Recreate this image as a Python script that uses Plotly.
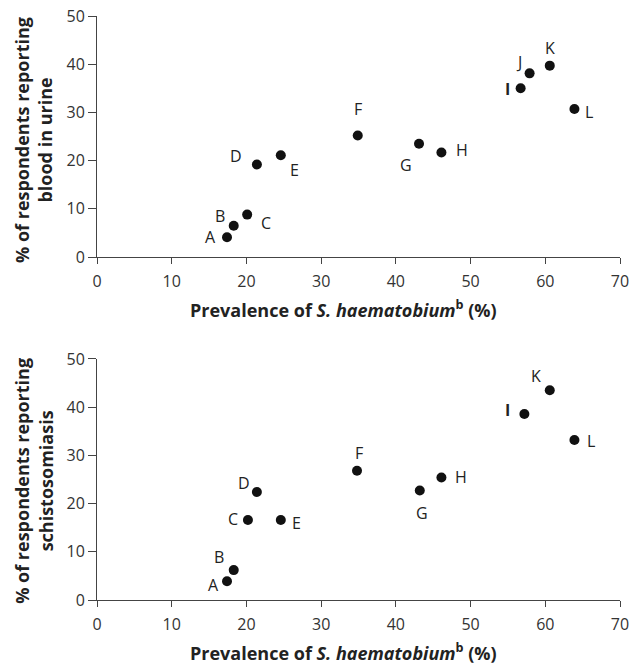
import plotly.graph_objects as go

# Panel 1: blood in urine
labels_top = ["A", "B", "C", "D", "E", "F", "G", "H", "I", "J", "K", "L"]
prev_top = [17.4, 18.3, 20.1, 21.4, 24.6, 34.9, 43.1, 46.1, 56.7, 57.9, 60.6, 63.9]
blood_urine = [4.1, 6.5, 8.8, 19.2, 21.1, 25.2, 23.5, 21.7, 35.0, 38.1, 39.7, 30.7]

# Panel 2: schistosomiasis
labels_bot = ["A", "B", "C", "D", "E", "F", "G", "H", "I", "K", "L"]
prev_bot = [17.4, 18.3, 20.2, 21.4, 24.6, 34.8, 43.2, 46.1, 57.2, 60.6, 63.9]
schisto = [3.9, 6.2, 16.6, 22.4, 16.6, 26.8, 22.7, 25.4, 38.6, 43.5, 33.2]

x_ticks = [0, 10, 20, 30, 40, 50, 60, 70]
y_ticks = [0, 10, 20, 30, 40, 50]

# label offsets in pixels (dx, dy; dy positive = up)
off_top = [(-17, 0), (-14, 10), (19, -8), (-21, 8), (14, -15), (0, 27),
           (-13, -21), (21, 2), (-13, -1), (-11, 11), (0, 18), (15, -3)]
off_bot = [(-14, -4), (-15, 13), (-15, 1), (-13, 9), (16, -3), (2, 18),
           (2, -22), (20, 1), (-17, 4), (-14, 14), (17, -1)]

TXT = "#222222"
FONT = "Open Sans"

fig = go.Figure()
fig.add_trace(go.Scatter(x=prev_top, y=blood_urine, mode="markers",
                         marker=dict(color="#111111", size=10),
                         xaxis="x", yaxis="y", showlegend=False))
fig.add_trace(go.Scatter(x=prev_bot, y=schisto, mode="markers",
                         marker=dict(color="#111111", size=10),
                         xaxis="x2", yaxis="y2", showlegend=False))

ann = []
for lab, xv, yv, (dx, dy) in zip(labels_top, prev_top, blood_urine, off_top):
    ann.append(dict(x=xv, y=yv, xref="x", yref="y", text=("<b>%s</b>" % lab if lab == "I" else lab),
                    showarrow=False, xshift=dx, yshift=dy, xanchor="center", yanchor="middle",
                    font=dict(family=FONT, size=16, color=TXT)))
for lab, xv, yv, (dx, dy) in zip(labels_bot, prev_bot, schisto, off_bot):
    ann.append(dict(x=xv, y=yv, xref="x2", yref="y2", text=("<b>%s</b>" % lab if lab == "I" else lab),
                    showarrow=False, xshift=dx, yshift=dy, xanchor="center", yanchor="middle",
                    font=dict(family=FONT, size=16, color=TXT)))

xtitle = "<b>Prevalence of <i>S. haematobium</i><sup>b</sup> (%)</b>"
tfont = dict(family=FONT, size=18, color=TXT)
common_t = dict(xref="paper", yref="paper", showarrow=False, font=tfont,
                xanchor="center", yanchor="middle")
ann.append(dict(x=0.472, y=0.4983, text=xtitle, **common_t))
ann.append(dict(x=0.472, y=-0.089, text=xtitle, **common_t))
ann.append(dict(x=-0.1205, y=0.7877,
                text="<b>% of respondents reporting<br>blood in urine</b>",
                textangle=-90, **common_t))
ann.append(dict(x=-0.1205, y=0.204,
                text="<b>% of respondents reporting<br>schistosomiasis</b>",
                textangle=-90, **common_t))

axis_common = dict(showgrid=False, zeroline=False, showline=True, linecolor="#444444",
                   linewidth=1, ticks="outside", tickcolor="#444444", tickwidth=1,
                   automargin=False, ticklabeloverflow="allow",
                   tickfont=dict(family=FONT, size=16, color="#333333"))

fig.update_layout(
    width=637, height=664,
    margin=dict(l=97, r=17, t=16, b=64),
    plot_bgcolor="white", paper_bgcolor="white",
    xaxis=dict(range=[0, 70], tickvals=x_ticks, ticklen=6, ticklabelstandoff=4, anchor="y", **axis_common),
    yaxis=dict(range=[0, 50], tickvals=y_ticks, ticklen=8, domain=[0.5873, 1.0], anchor="x", **axis_common),
    xaxis2=dict(range=[0, 70], tickvals=x_ticks, ticklen=6, ticklabelstandoff=4, anchor="y2", **axis_common),
    yaxis2=dict(range=[0, 50], tickvals=y_ticks, ticklen=8, domain=[0.0, 0.4127], anchor="x2", **axis_common),
    annotations=ann,
)

fig.write_html("out.html", config={"displayModeBar": False},
               post_script="document.body.style.margin='0';document.body.style.overflow='hidden';")
